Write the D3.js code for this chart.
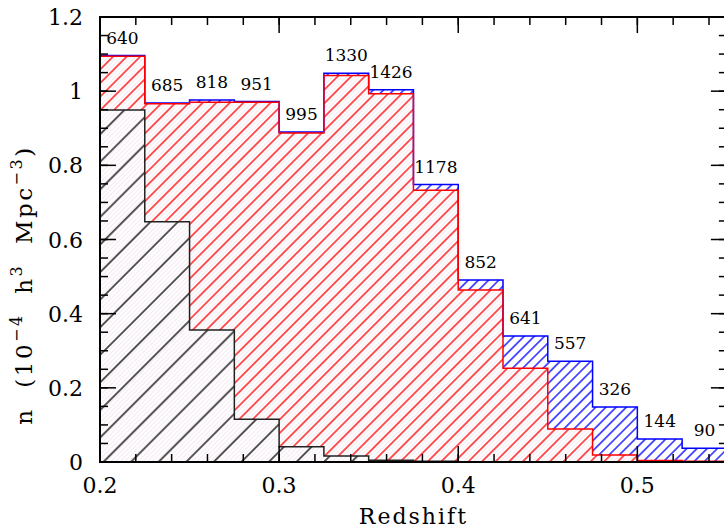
<!DOCTYPE html>
<html>
<head>
<meta charset="utf-8">
<script src="https://cdn.jsdelivr.net/npm/d3@7"></script>
<style>
html,body{margin:0;padding:0;background:#fff;overflow:hidden;}
svg{display:block;font-family:"DejaVu Serif",serif;}
</style>
</head>
<body>
<svg id="chart" width="724" height="529"></svg>
<script>
// ---- data ----
const binEdges = [0.2,0.225,0.25,0.275,0.3,0.325,0.35,0.375,0.4,0.425,0.45,0.475,0.5,0.525,0.55];
const blueValues = [1.096,0.968,0.976,0.972,0.890,1.048,1.004,0.748,0.491,0.340,0.272,0.148,0.062,0.037];
const redValues  = [1.094,0.966,0.970,0.970,0.887,1.042,0.993,0.733,0.464,0.253,0.089,0.019,0.004,0.002];
const blackValues= [0.949,0.648,0.356,0.115,0.041,0.016,0.005,0.002,0.001,0,0,0,0,0];
const countLabels = [640,685,818,951,995,1330,1426,1178,852,641,557,326,144,90];
const xTickLabels = [0.2,0.3,0.4,0.5];
const yTickLabels = [0,0.2,0.4,0.6,0.8,1,1.2];

const svg = d3.select("#chart");
const x = d3.scaleLinear().domain([0.2,0.55]).range([100,726.9]);
const y = d3.scaleLinear().domain([0,1.2]).range([462,17]);

// patterns
const defs = svg.append("defs");
function hatch(id, spacing, color, width){
  const p = defs.append("pattern").attr("id",id).attr("patternUnits","userSpaceOnUse")
    .attr("width",spacing).attr("height",spacing).attr("patternTransform","rotate(45)");
  p.append("line").attr("x1",spacing/2).attr("x2",spacing/2).attr("y1",-1).attr("y2",spacing+1)
    .attr("stroke",color).attr("stroke-width",width);
}
hatch("hBlue",7.2,"#0000ff",1.3);
hatch("hRed",9.6,"#ff0000",1.3);
hatch("hBlack",19.5,"#000000",1.3);
hatch("hFaint",3.2,"#f1e2ee",0.8);

function stepArea(vals){
  let d = "M"+x(binEdges[0])+","+y(0);
  vals.forEach((v,i)=>{ d += "L"+x(binEdges[i])+","+y(v)+"L"+x(binEdges[i+1])+","+y(v); });
  d += "L"+x(binEdges[binEdges.length-1])+","+y(0)+"Z";
  return d;
}
function stepLine(vals){
  let d = "M"+x(binEdges[0])+","+y(0);
  vals.forEach((v,i)=>{ d += "L"+x(binEdges[i])+","+y(v)+"L"+x(binEdges[i+1])+","+y(v); });
  return d;
}

const g = svg.append("g");
// blue
g.append("path").attr("d",stepArea(blueValues)).attr("fill","#fff");
g.append("path").attr("d",stepArea(blueValues)).attr("fill","url(#hBlue)");
// red
g.append("path").attr("d",stepArea(redValues)).attr("fill","#fff");
g.append("path").attr("d",stepArea(redValues)).attr("fill","url(#hFaint)");
g.append("path").attr("d",stepArea(redValues)).attr("fill","url(#hRed)");
// black
g.append("path").attr("d",stepArea(blackValues)).attr("fill","#fff");
g.append("path").attr("d",stepArea(blackValues)).attr("fill","url(#hFaint)");
g.append("path").attr("d",stepArea(blackValues)).attr("fill","url(#hBlack)");
// outlines
g.append("path").attr("d",stepLine(blueValues)).attr("fill","none").attr("stroke","#0000ff").attr("stroke-width",1.5);
g.append("path").attr("d",stepLine(redValues)).attr("fill","none").attr("stroke","#ff0000").attr("stroke-width",1.5);
g.append("path").attr("d",stepLine(blackValues)).attr("fill","none").attr("stroke","#222").attr("stroke-width",1.5);

// count labels
g.selectAll("text.cnt").data(countLabels).enter().append("text").attr("class","cnt")
  .attr("x",(d,i)=>(x(binEdges[i])+x(binEdges[i+1]))/2)
  .attr("y",(d,i)=>y(Math.max(blueValues[i],redValues[i]))-12)
  .attr("text-anchor","middle").attr("font-size",17).attr("fill","#000").text(d=>d);

// frame
const ax = svg.append("g");
ax.append("rect").attr("x",x(0.2)).attr("y",y(1.2)).attr("width",x(0.55)-x(0.2)).attr("height",y(0)-y(1.2))
  .attr("fill","none").attr("stroke","#000").attr("stroke-width",2);

// ticks
const xMinor = d3.range(0.2,0.5501,0.02);
const xMajor = xTickLabels;
const yMinor = d3.range(0,1.2001,0.05);
const yMajor = yTickLabels;
const MAJ=16, MIN=8;
function tickLines(sel, data, len, orient){
  sel.selectAll(null).data(data).enter().append("line")
    .attr("x1",d=> orient==="b"||orient==="t" ? x(d) : (orient==="l"? x(0.2) : x(0.55)))
    .attr("x2",d=> orient==="b"||orient==="t" ? x(d) : (orient==="l"? x(0.2)+len : x(0.55)-len))
    .attr("y1",d=> orient==="l"||orient==="r" ? y(d) : (orient==="b"? y(0) : y(1.2)))
    .attr("y2",d=> orient==="l"||orient==="r" ? y(d) : (orient==="b"? y(0)-len : y(1.2)+len))
    .attr("stroke","#000").attr("stroke-width",1.5);
}
["b","t"].forEach(o=>{ tickLines(ax,xMinor,MIN,o); tickLines(ax,xMajor,MAJ,o); });
["l","r"].forEach(o=>{ tickLines(ax,yMinor,MIN,o); tickLines(ax,yMajor,MAJ,o); });

// tick labels
ax.selectAll("text.xt").data(xTickLabels).enter().append("text")
  .attr("x",d=>x(d)).attr("y",493).attr("text-anchor","middle").attr("font-size",22).text(d=>d3.format(".1f")(d));
ax.selectAll("text.yt").data(yTickLabels).enter().append("text")
  .attr("x",83).attr("y",d=>y(d)+8).attr("text-anchor","end").attr("font-size",22)
  .text(d=> d===0 ? "0" : (d===1 ? "1" : d3.format(".1f")(d)));

// axis titles
ax.append("text").attr("x",(x(0.2)+x(0.55))/2+0).attr("y",524).attr("text-anchor","middle")
  .attr("font-size",22).attr("letter-spacing","2px").text("Redshift");

const yl = ax.append("text").attr("transform","translate(32,285) rotate(-90)")
  .attr("text-anchor","middle").attr("font-size",23).attr("letter-spacing","2.5px")
  .attr("xml:space","preserve").style("white-space","pre");
yl.append("tspan").text("n  (10");
yl.append("tspan").attr("dy",-10).attr("font-size",16).text("−4");
yl.append("tspan").attr("dy",10).text("  h");
yl.append("tspan").attr("dy",-10).attr("font-size",16).text("3");
yl.append("tspan").attr("dy",10).text("  Mpc");
yl.append("tspan").attr("dy",-10).attr("font-size",16).text("−3");
yl.append("tspan").attr("dy",10).text(")");
</script>
</body>
</html>
